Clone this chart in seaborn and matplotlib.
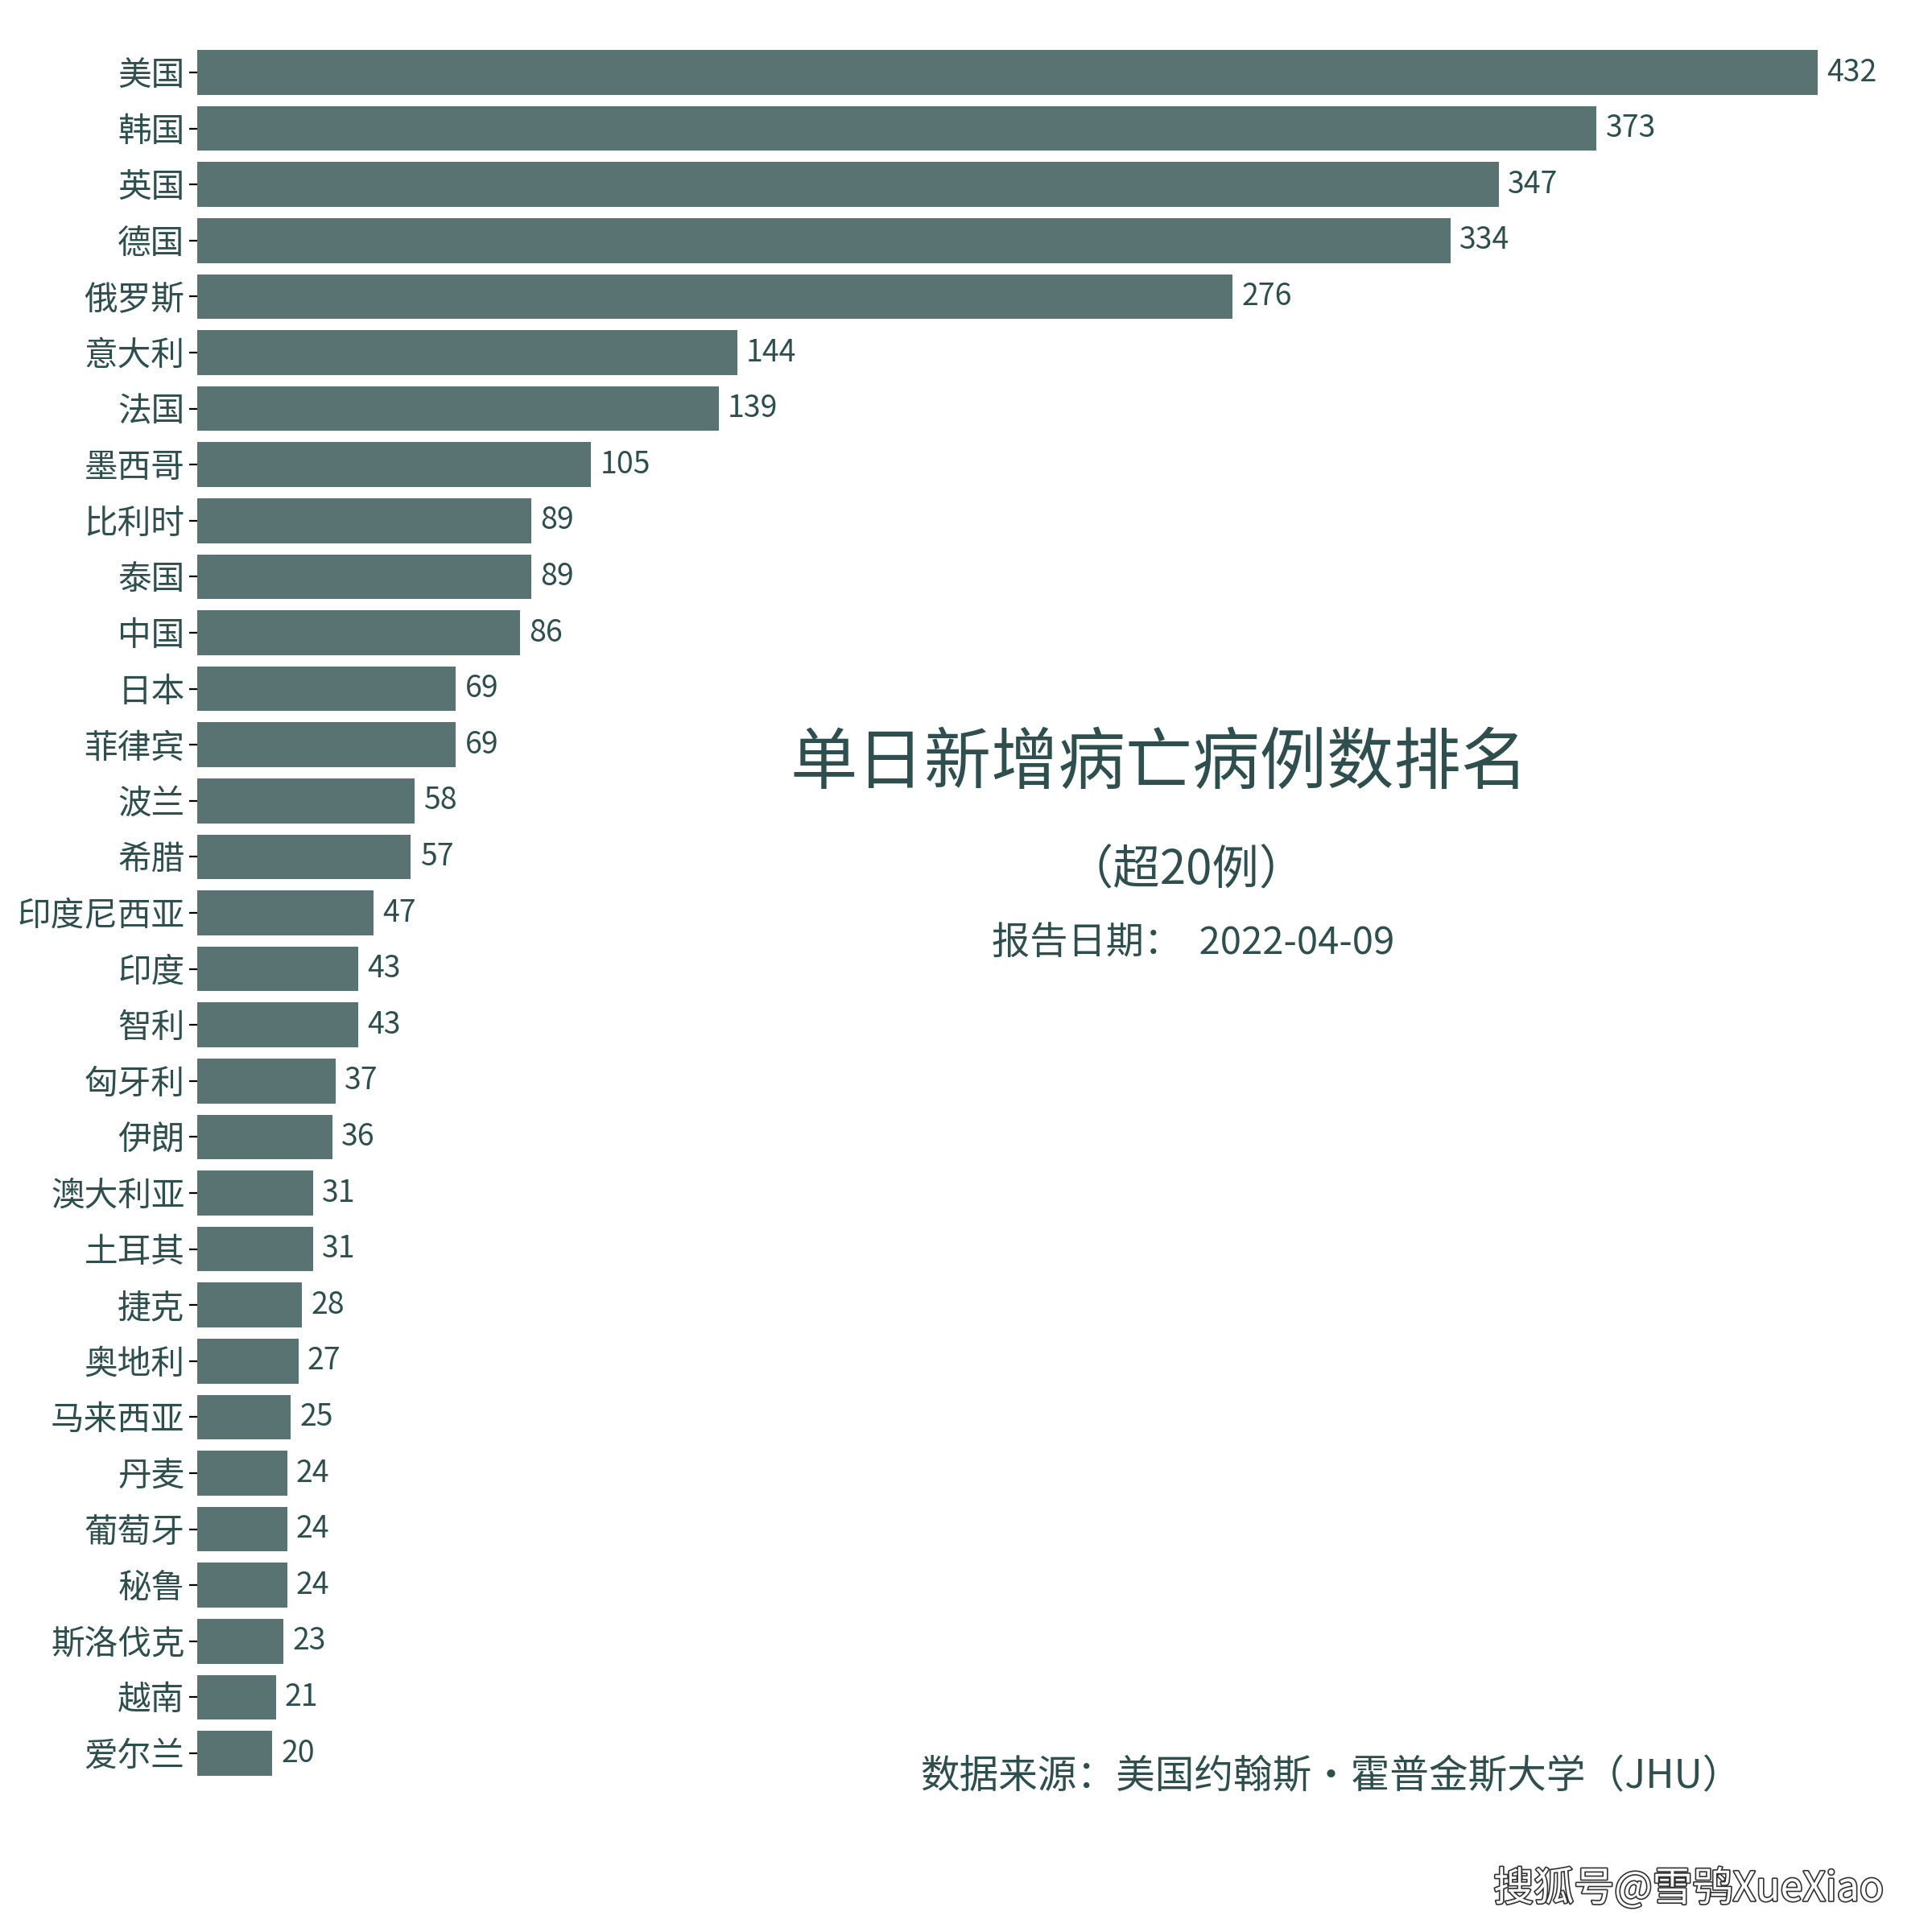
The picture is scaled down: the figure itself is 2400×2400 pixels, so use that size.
import matplotlib
matplotlib.use("Agg")
import matplotlib.pyplot as plt
import matplotlib.patheffects as pe
import seaborn as sns
import pandas as pd

countries = ["美国", "韩国", "英国", "德国", "俄罗斯", "意大利", "法国", "墨西哥",
             "比利时", "泰国", "中国", "日本", "菲律宾", "波兰", "希腊", "印度尼西亚",
             "印度", "智利", "匈牙利", "伊朗", "澳大利亚", "土耳其", "捷克", "奥地利",
             "马来西亚", "丹麦", "葡萄牙", "秘鲁", "斯洛伐克", "越南", "爱尔兰"]
deaths = [432, 373, 347, 334, 276, 144, 139, 105, 89, 89, 86, 69, 69, 58, 57, 47,
          43, 43, 37, 36, 31, 31, 28, 27, 25, 24, 24, 24, 23, 21, 20]

title = "单日新增病亡病例数排名"
subtitle = "（超20例）"
report_date = "报告日期：  2022-04-09"
source = "数据来源：美国约翰斯·霍普金斯大学（JHU）"
watermark = "搜狐号@雪鸮XueXiao"

sns.set_theme(style="white")
plt.rcParams["font.family"] = ["Noto Sans CJK SC", "DejaVu Sans"]

txt = "darkslategray"
df = pd.DataFrame({"country": countries, "deaths": deaths})

fig = plt.figure(figsize=(12, 12), dpi=200)
ax = fig.add_axes([0.102, 0.078, 0.874, 0.899])

sns.barplot(data=df, x="deaths", y="country", color="darkslategray",
            alpha=0.8, saturation=1, width=0.8, linewidth=0, ax=ax)
ax.set_xlim(0, 450)
ax.bar_label(ax.containers[0], fmt="%d", padding=4, fontsize=13.5, color=txt)

sns.despine(ax=ax, left=True, bottom=True)
ax.set_xticks([])
ax.set_xlabel("")
ax.set_ylabel("")
ax.tick_params(axis="y", left=True, length=3.5, width=0.8, color="black",
               labelsize=15, labelcolor=txt, pad=2)

fig.text(0.600, 0.605, title, ha="center", va="center", fontsize=30, color=txt)
fig.text(0.614, 0.549, subtitle, ha="center", va="center", fontsize=21, color=txt)
fig.text(0.6175, 0.512, report_date, ha="center", va="center", fontsize=17, color=txt)
fig.text(0.689, 0.080, source, ha="center", va="center", fontsize=17.5, color=txt)
fig.text(0.975, 0.022, watermark, ha="right", va="center", fontsize=18, color="white",
         path_effects=[pe.withStroke(linewidth=1.2, foreground="#333333")])

fig.savefig("out.png", dpi=200, facecolor="white")
